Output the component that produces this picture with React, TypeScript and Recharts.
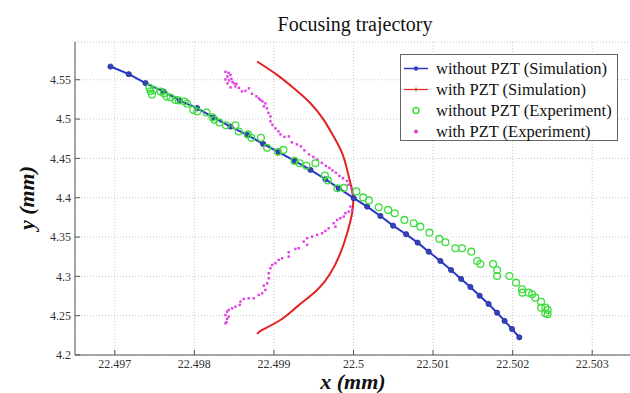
import React from 'react';
import { ScatterChart, Scatter, XAxis, YAxis, CartesianGrid, Legend } from 'recharts';

// axis ticks
const xTicks = [22.497, 22.498, 22.499, 22.5, 22.501, 22.502, 22.503];
const yTicks = [4.2, 4.25, 4.3, 4.35, 4.4, 4.45, 4.5, 4.55];

// without PZT (Simulation)
const simNoPzt: [number, number][] = [
  [22.496946, 4.5668], [22.497176, 4.5571], [22.497386, 4.5457], [22.497616, 4.535], [22.497817, 4.5235],
  [22.498035, 4.5139], [22.498244, 4.5019], [22.498454, 4.4905], [22.498663, 4.4799], [22.498864, 4.4684],
  [22.49906, 4.4579], [22.499261, 4.4468], [22.499459, 4.4354], [22.499647, 4.4235], [22.499814, 4.4121],
  [22.500003, 4.3994], [22.500171, 4.3887], [22.500338, 4.3768], [22.500497, 4.3645], [22.500661, 4.3536],
  [22.500806, 4.3429], [22.500945, 4.3314], [22.501092, 4.3196], [22.501226, 4.3081], [22.501352, 4.2967],
  [22.501469, 4.2865], [22.501585, 4.2754], [22.501698, 4.2649], [22.501804, 4.2538], [22.501899, 4.2433],
  [22.501992, 4.2331], [22.502084, 4.2225],
];

// with PZT (Simulation)
const simPzt: [number, number][] = [
  [22.498789, 4.5732], [22.49904, 4.5562], [22.499249, 4.5393], [22.499459, 4.5202], [22.499626, 4.499],
  [22.499751, 4.4777], [22.499857, 4.4566], [22.49992, 4.4354], [22.499961, 4.4184], [22.499995, 4.4014],
  [22.499982, 4.3803], [22.49992, 4.3548], [22.499835, 4.3294], [22.49971, 4.3039], [22.499543, 4.2827],
  [22.499291, 4.2615], [22.499082, 4.2445], [22.498852, 4.2318], [22.498789, 4.2267],
];

// without PZT (Experiment)
const expNoPzt: [number, number][] = [
  [22.497436, 4.5397], [22.497449, 4.5353], [22.497467, 4.5314], [22.497486, 4.5372], [22.497574, 4.535],
  [22.497616, 4.5327], [22.49765, 4.5286], [22.4977, 4.5274], [22.497763, 4.5244], [22.497804, 4.5236],
  [22.497876, 4.5223], [22.49791, 4.5194], [22.497985, 4.5117], [22.498035, 4.5096], [22.498152, 4.5083],
  [22.498227, 4.5022], [22.498253, 4.499], [22.498315, 4.4956], [22.498397, 4.492], [22.498516, 4.492],
  [22.498558, 4.4841], [22.498673, 4.4805], [22.498717, 4.4761], [22.498837, 4.4761], [22.498915, 4.4634],
  [22.49905, 4.4583], [22.499119, 4.4608], [22.499258, 4.4468], [22.499324, 4.4439], [22.499408, 4.4405],
  [22.499521, 4.4439], [22.499641, 4.4281], [22.499678, 4.422], [22.499798, 4.4121], [22.499879, 4.4125],
  [22.500036, 4.408], [22.500121, 4.4004], [22.500193, 4.3966], [22.500317, 4.3879], [22.500435, 4.3845],
  [22.500518, 4.3803], [22.50064, 4.3718], [22.500756, 4.3676], [22.50084, 4.3632], [22.500954, 4.3556],
  [22.501079, 4.3476], [22.501155, 4.3434], [22.50128, 4.3358], [22.501364, 4.3358], [22.501481, 4.3314],
  [22.501553, 4.3196], [22.501594, 4.3158], [22.501754, 4.3158], [22.501804, 4.3081], [22.501804, 4.3005],
  [22.501959, 4.3005], [22.502043, 4.292], [22.502118, 4.2836], [22.502122, 4.2793], [22.502201, 4.2793],
  [22.502244, 4.2772], [22.502285, 4.2729], [22.502357, 4.2678], [22.502357, 4.2602], [22.502411, 4.2602],
  [22.50244, 4.2573], [22.502411, 4.2531], [22.50244, 4.2518],
];

// with PZT (Experiment)
const expPzt: [number, number][] = [
  [22.498391, 4.5601], [22.498429, 4.5588], [22.498416, 4.5543], [22.498454, 4.5562], [22.498391, 4.5505],
  [22.498466, 4.5511], [22.498435, 4.5492], [22.498479, 4.5473], [22.498416, 4.5454], [22.498498, 4.5454],
  [22.498529, 4.5448], [22.498454, 4.5403], [22.498516, 4.5416], [22.49856, 4.5397], [22.498598, 4.5352],
  [22.498642, 4.5359], [22.498686, 4.5391], [22.498724, 4.5321], [22.49878, 4.5289], [22.498812, 4.5263],
  [22.49883, 4.5244], [22.498856, 4.5225], [22.498893, 4.52], [22.498874, 4.5162], [22.498912, 4.5136],
  [22.498931, 4.5079], [22.498956, 4.5034], [22.498956, 4.4971], [22.498981, 4.4926], [22.499019, 4.4882],
  [22.499057, 4.4844], [22.499082, 4.4805], [22.499132, 4.4774], [22.499188, 4.478], [22.499226, 4.4704],
  [22.499289, 4.4678], [22.499339, 4.4653], [22.499383, 4.4602], [22.49944, 4.4551], [22.499496, 4.4519],
  [22.499546, 4.4487], [22.499603, 4.4443], [22.499653, 4.4405], [22.499697, 4.4379], [22.499735, 4.4347],
  [22.499779, 4.4316], [22.499823, 4.4277], [22.499867, 4.4246], [22.499917, 4.4214], [22.499936, 4.4163],
  [22.499974, 4.4118], [22.499986, 4.4061],
  [22.499961, 4.3887], [22.499982, 4.3845], [22.49994, 4.3823], [22.499898, 4.3803], [22.499877, 4.376],
  [22.499835, 4.3739], [22.499794, 4.3718], [22.499751, 4.3676], [22.499773, 4.3632], [22.499688, 4.3612],
  [22.499647, 4.3578], [22.499606, 4.3548], [22.499543, 4.3527], [22.49948, 4.3505], [22.499417, 4.3485],
  [22.499374, 4.3442], [22.499417, 4.34], [22.499312, 4.3358], [22.49927, 4.3349], [22.499186, 4.3307],
  [22.499186, 4.3251], [22.499103, 4.323], [22.49906, 4.3209], [22.499019, 4.3167], [22.498977, 4.3145],
  [22.498956, 4.3103], [22.498935, 4.304], [22.498935, 4.2976], [22.498915, 4.2912], [22.498872, 4.2882],
  [22.498893, 4.2827], [22.498852, 4.2785], [22.498809, 4.2763], [22.498746, 4.2721], [22.498683, 4.2721],
  [22.498621, 4.2713], [22.498579, 4.2678], [22.49857, 4.2636], [22.498516, 4.2615], [22.498475, 4.2594],
  [22.498432, 4.2573], [22.498412, 4.2551], [22.498391, 4.2509], [22.498432, 4.2487], [22.498412, 4.2458],
  [22.498403, 4.2416], [22.498391, 4.2403],
];

const toPts = (arr: [number, number][]) => arr.map(([x, y]) => ({ x, y }));

const SERIF = '"Liberation Serif", "Times New Roman", serif';
const BLUE = '#2a36c8';
const RED = '#e52222';
const GREEN = '#3fdc3f';
const MAGENTA = '#e23ce2';

const BlueDot = (p: any) => <circle cx={p.cx} cy={p.cy} r={2.6} fill="#3443b8" stroke="#24319a" strokeWidth={0.8} />;
const GreenDot = (p: any) => <circle cx={p.cx} cy={p.cy} r={3.4} fill="none" stroke={GREEN} strokeWidth={1.3} />;
const MagentaDot = (p: any) => <rect x={p.cx - 1.2} y={p.cy - 1.2} width={2.4} height={2.4} fill={MAGENTA} />;
const NoDot = () => <g />;

const LegendBox = () => {
  const rows = [
    { label: 'without PZT (Simulation)', kind: 'blue' },
    { label: 'with PZT (Simulation)', kind: 'red' },
    { label: 'without PZT (Experiment)', kind: 'green' },
    { label: 'with PZT (Experiment)', kind: 'magenta' },
  ];
  return (
    <div style={{ width: 218, height: 87, boxSizing: 'border-box', border: '1px solid #666', background: '#fff', paddingTop: 3, fontFamily: SERIF, fontSize: 16.5, color: '#111' }}>
      {rows.map(r => (
        <div key={r.label} style={{ height: 21, display: 'flex', alignItems: 'center', whiteSpace: 'nowrap' }}>
          <svg width={35} height={21} style={{ flex: 'none' }}>
            {r.kind === 'blue' && <>
              <line x1={3} y1={10.5} x2={27} y2={10.5} stroke={BLUE} strokeWidth={1.5} />
              <circle cx={15} cy={10.5} r={2.3} fill="#3443b8" />
            </>}
            {r.kind === 'red' && <>
              <line x1={3} y1={10.5} x2={27} y2={10.5} stroke={RED} strokeWidth={1.2} />
              <line x1={15} y1={8.5} x2={15} y2={12.5} stroke={RED} strokeWidth={1} />
            </>}
            {r.kind === 'green' && <circle cx={15} cy={10.5} r={3} fill="none" stroke={GREEN} strokeWidth={1.5} />}
            {r.kind === 'magenta' && <circle cx={15} cy={10.5} r={2} fill={MAGENTA} />}
          </svg>
          <span>{r.label}</span>
        </div>
      ))}
    </div>
  );
};

const tickStyle = { fontFamily: SERIF, fontSize: 12, fill: '#333' };
const fmtX = (v: number) => String(+v.toFixed(3));
const fmtY = (v: number) => String(+v.toFixed(2));

export default function App() {
  return (
    <div style={{ position: 'fixed', left: 0, top: 0, width: 630, height: 393, overflow: 'hidden', background: '#fff' }}>
      <ScatterChart width={634} height={393} margin={{ top: 42, right: 2, bottom: 0, left: 0 }}>
        <CartesianGrid stroke="#c8c8c8" strokeDasharray="1 2" />
        <XAxis xAxisId={0} dataKey="x" type="number" domain={[22.4965, 22.5035]} ticks={xTicks}
          tickFormatter={fmtX} height={38} tickSize={-5} tickMargin={9} tick={tickStyle}
          axisLine={{ stroke: '#555' }} tickLine={{ stroke: '#555' }} />
        <XAxis xAxisId="top" orientation="top" dataKey="x" type="number" domain={[22.4965, 22.5035]} ticks={xTicks}
          height={0} tickSize={-5} tick={() => <g />} axisLine={{ stroke: '#555' }} tickLine={{ stroke: '#555' }} />
        <YAxis yAxisId={0} dataKey="y" type="number" domain={[4.2, 4.598]} ticks={yTicks}
          tickFormatter={fmtY} width={75} tickSize={-5} tickMargin={9} tick={tickStyle}
          axisLine={{ stroke: '#555' }} tickLine={{ stroke: '#555' }} />
        <YAxis yAxisId="right" orientation="right" dataKey="y" type="number" domain={[4.2, 4.598]} ticks={yTicks}
          width={0} tickSize={-5} tick={() => <g />} axisLine={{ stroke: '#555' }} tickLine={{ stroke: '#555' }} />
        <Scatter name="with PZT (Simulation)" data={toPts(simPzt)} line={{ stroke: RED, strokeWidth: 2 }}
          lineJointType="natural" shape={NoDot} isAnimationActive={false} />
        <Scatter name="without PZT (Simulation)" data={toPts(simNoPzt)} line={{ stroke: BLUE, strokeWidth: 2 }}
          shape={BlueDot} isAnimationActive={false} />
        <Scatter name="with PZT (Experiment)" data={toPts(expPzt)} shape={MagentaDot} isAnimationActive={false} />
        <Scatter name="without PZT (Experiment)" data={toPts(expNoPzt)} shape={GreenDot} isAnimationActive={false} />
        <Legend layout="vertical" align="center" verticalAlign="middle" content={() => <LegendBox />}
          wrapperStyle={{ left: 400, top: 54, width: 218, height: 87 }} />
        <text x={355} y={31} textAnchor="middle" fontFamily={SERIF} fontSize={20} fill="#111">Focusing trajectory</text>
        <text x={353} y={389} textAnchor="middle" fontFamily={SERIF} fontSize={22} fontWeight="bold" fontStyle="italic" fill="#111">x (mm)</text>
        <text x={34} y={198} textAnchor="middle" fontFamily={SERIF} fontSize={22} fontWeight="bold" fontStyle="italic" fill="#111" transform="rotate(-90 34 198)">y (mm)</text>
      </ScatterChart>
    </div>
  );
}
